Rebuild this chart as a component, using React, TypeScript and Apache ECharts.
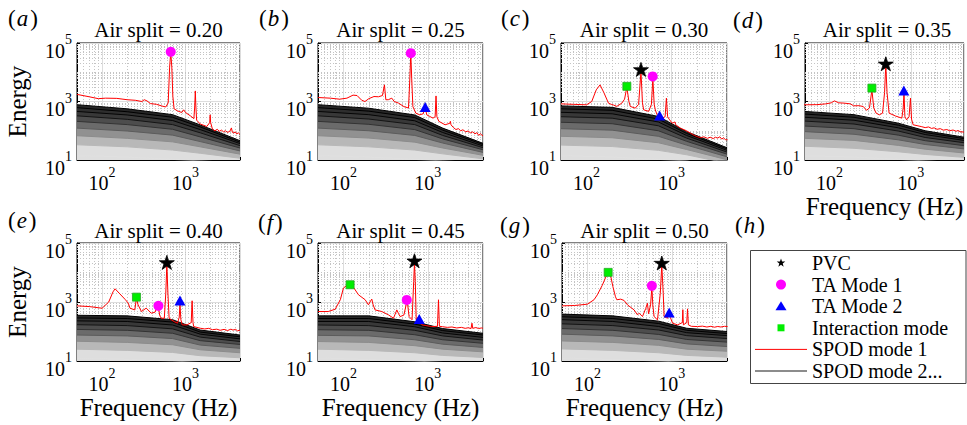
import React, { useEffect, useRef } from "react";
import * as echarts from "echarts";

const FONT = "Liberation Serif";

// ---------------- data ----------------
const AIR_SPLIT = ["0.20", "0.25", "0.30", "0.35", "0.40", "0.45", "0.50"];
const PANEL_TAGS = ["a", "b", "c", "d", "e", "f", "g"];

const FREQ_MIN = 50;
const FREQ_MAX = 4500;
const ENERGY_MIN = 10;
const ENERGY_MAX = 100000;

const MINOR_FREQ = [60, 70, 80, 90, 200, 300, 400, 500, 600, 700, 800, 900, 2000, 3000, 4000];
const MINOR_ENERGY = [
  20, 30, 40, 50, 60, 70, 80, 90, 100, 200, 300, 400, 500, 600, 700, 800, 900,
  2000, 3000, 4000, 5000, 6000, 7000, 8000, 9000, 10000, 20000, 30000, 40000,
  50000, 60000, 70000, 80000, 90000,
];

// SPOD modes 2, 3, ... (top to bottom): log10(Energy) at SPOD_FREQ
const SPOD_FREQ = [50, 200, 700, 1500, 4500];
const SPOD_LOG_A = [
  [2.89, 2.75, 2.55, 2.2, 1.66], [2.79, 2.65, 2.46, 2.13, 1.61], [2.66, 2.54, 2.35, 2.04, 1.56],
  [2.51, 2.39, 2.21, 1.93, 1.49], [2.32, 2.21, 2.05, 1.79, 1.41], [2.09, 1.99, 1.85, 1.63, 1.31],
  [1.83, 1.74, 1.62, 1.45, 1.2], [1.52, 1.45, 1.34, 1.23, 1.06], [1.15, 1.1, 1.02, 0.97, 0.9],
];
const SPOD_LOG_B = [
  [2.89, 2.77, 2.54, 2.09, 1.57], [2.79, 2.67, 2.45, 2.02, 1.53], [2.66, 2.55, 2.34, 1.94, 1.48],
  [2.51, 2.4, 2.21, 1.84, 1.42], [2.32, 2.22, 2.04, 1.72, 1.35], [2.09, 2.0, 1.84, 1.58, 1.26],
  [1.83, 1.75, 1.61, 1.41, 1.16], [1.52, 1.45, 1.34, 1.21, 1.04], [1.15, 1.1, 1.02, 0.97, 0.9],
];
const SPOD_LOG_C = [
  [2.85, 2.8, 2.49, 1.97, 1.42], [2.75, 2.7, 2.4, 1.91, 1.38], [2.63, 2.58, 2.3, 1.84, 1.33],
  [2.48, 2.43, 2.17, 1.75, 1.27], [2.29, 2.24, 2.0, 1.64, 1.2], [2.07, 2.02, 1.81, 1.51, 1.11],
  [1.81, 1.76, 1.59, 1.36, 1.01], [1.51, 1.46, 1.33, 1.18, 0.89], [1.15, 1.1, 1.02, 0.97, 0.75],
];
const SPOD_LOG_D = [
  [2.66, 2.55, 2.26, 2.0, 1.78], [2.57, 2.46, 2.19, 1.94, 1.73], [2.46, 2.36, 2.1, 1.87, 1.67],
  [2.33, 2.23, 1.99, 1.77, 1.59], [2.16, 2.07, 1.85, 1.66, 1.49], [1.97, 1.88, 1.69, 1.53, 1.38],
  [1.74, 1.67, 1.5, 1.37, 1.24], [1.47, 1.4, 1.28, 1.19, 1.09], [1.15, 1.1, 1.02, 0.97, 0.9],
];
const SPOD_LOG_E = [
  [2.55, 2.53, 2.4, 2.05, 1.88], [2.46, 2.44, 2.32, 1.98, 1.82], [2.36, 2.34, 2.22, 1.91, 1.75],
  [2.23, 2.2, 2.09, 1.81, 1.66], [2.07, 2.04, 1.94, 1.69, 1.56], [1.88, 1.85, 1.76, 1.54, 1.43],
  [1.67, 1.63, 1.55, 1.38, 1.28], [1.4, 1.36, 1.29, 1.18, 1.11], [1.1, 1.05, 1.0, 0.95, 0.9],
];
const SPOD_LOG_F = [
  [2.53, 2.53, 2.33, 2.1, 1.94], [2.44, 2.44, 2.25, 2.03, 1.88], [2.34, 2.34, 2.16, 1.95, 1.8],
  [2.22, 2.2, 2.04, 1.85, 1.71], [2.06, 2.04, 1.89, 1.72, 1.6], [1.87, 1.85, 1.72, 1.57, 1.46],
  [1.66, 1.63, 1.52, 1.4, 1.31], [1.4, 1.36, 1.28, 1.19, 1.12], [1.1, 1.05, 1.0, 0.95, 0.9],
];
const SPOD_LOG_G = [
  [2.59, 2.53, 2.35, 2.11, 2.0], [2.5, 2.44, 2.27, 2.04, 1.93], [2.4, 2.34, 2.17, 1.96, 1.86],
  [2.26, 2.2, 2.05, 1.86, 1.76], [2.1, 2.04, 1.9, 1.73, 1.64], [1.91, 1.85, 1.73, 1.58, 1.49],
  [1.68, 1.63, 1.53, 1.4, 1.33], [1.41, 1.36, 1.28, 1.19, 1.13], [1.1, 1.05, 1.0, 0.95, 0.9],
];

// SPOD mode 1 spectra: [frequency (Hz), energy]
const MODE1_A = [
  [50, 1750], [70, 1450], [90, 1250], [110, 1300], [150, 1280], [200, 1150], [250, 1100], [300, 1000],
  [320, 1150], [345, 1050], [380, 850], [450, 800], [520, 700], [580, 650], [620, 900], [645, 15000],
  [665, 48000], [685, 15000], [705, 1500], [730, 560], [800, 480], [900, 420], [950, 520], [1000, 420],
  [1150, 320], [1260, 260], [1290, 700], [1310, 2300], [1330, 700], [1360, 230], [1500, 170], [1800, 140],
  [1950, 190], [1975, 350], [2000, 190], [2100, 115], [2250, 100], [2400, 112], [2550, 96], [2700, 105],
  [2850, 92], [3000, 100], [3200, 88], [3400, 96], [3550, 125], [3650, 88], [3800, 84], [3950, 92],
  [4100, 78], [4300, 85], [4500, 75],
];
const MODE1_B = [
  [50, 1370], [70, 1300], [90, 1200], [110, 1300], [130, 1650], [145, 1600], [165, 1100], [180, 1000],
  [200, 1250], [230, 1480], [260, 1450], [290, 1600], [306, 3700], [318, 1150], [340, 1150], [374, 1300],
  [400, 1000], [450, 880], [520, 670], [590, 600], [612, 6000], [628, 45000], [644, 6000], [665, 670],
  [720, 400], [800, 350], [880, 380], [930, 650], [970, 350], [1050, 310], [1150, 270], [1220, 300],
  [1250, 1550], [1280, 300], [1350, 210], [1600, 160], [1820, 180], [1850, 210], [1880, 160], [2000, 130],
  [2150, 110], [2300, 118], [2450, 100], [2600, 108], [2800, 92], [3000, 98], [3200, 85], [3400, 92],
  [3600, 78], [3800, 86], [4000, 70], [4200, 78], [4500, 66],
];
const MODE1_C = [
  [50, 830], [70, 800], [100, 770], [115, 1000], [130, 2500], [144, 3700], [160, 2000], [181, 880],
  [195, 800], [207, 760], [227, 680], [260, 880], [280, 1200], [298, 3100], [315, 1000], [327, 680],
  [374, 590], [410, 800], [437, 10700], [455, 900], [470, 520], [539, 460], [580, 800], [603, 6300],
  [625, 800], [645, 515], [676, 350], [725, 320], [773, 270], [840, 300], [871, 1300], [900, 300],
  [950, 236], [1020, 181], [1100, 200], [1120, 160], [1280, 122], [1500, 100], [1680, 82], [1850, 70],
  [2010, 63], [2200, 58], [2400, 62], [2650, 55], [2850, 60], [3100, 54], [3300, 60], [3490, 56],
  [3700, 62], [3900, 52], [4100, 57], [4300, 50], [4570, 49],
];
const MODE1_D = [
  [48, 770], [70, 780], [90, 830], [105, 900], [115, 1050], [130, 900], [151, 880], [181, 830],
  [198, 710], [230, 720], [260, 674], [285, 500], [310, 600], [332, 2500], [350, 600], [374, 400],
  [410, 350], [449, 400], [475, 2000], [492, 18100], [510, 2000], [540, 400], [646, 320], [775, 270],
  [805, 600], [824, 1930], [845, 300], [887, 236], [950, 300], [990, 1300], [1020, 250], [1066, 160],
  [1340, 139], [1500, 128], [1650, 135], [1800, 120], [1930, 126], [2100, 112], [2300, 118], [2500, 105],
  [2770, 110], [3000, 100], [3300, 106], [3600, 96], [3800, 102], [4030, 93], [4500, 90],
];
const MODE1_E = [
  [50, 740], [70, 700], [100, 615], [120, 1000], [135, 2200], [143, 2800], [160, 2000], [190, 1200],
  [206, 910], [216, 615], [247, 540], [258, 1400], [270, 800], [296, 475], [338, 620], [388, 417],
  [430, 450], [450, 600], [473, 700], [490, 350], [510, 282], [557, 282], [580, 2000], [597, 18300],
  [615, 2000], [636, 282], [729, 217], [800, 191], [840, 300], [858, 820], [880, 250], [912, 168],
  [1043, 168], [1170, 200], [1200, 1100], [1230, 200], [1253, 147], [1500, 129], [1700, 122], [1900, 128],
  [2100, 115], [2370, 120], [2600, 110], [2900, 118], [3200, 108], [3500, 120], [3700, 112], [4000, 118],
  [4200, 105], [4500, 112],
];
const MODE1_F = [
  [50, 475], [66, 475], [80, 570], [92, 1200], [100, 2950], [110, 3700], [120, 3840], [131, 3190],
  [151, 1750], [181, 1190], [198, 800], [210, 1100], [217, 1250], [225, 800], [237, 540], [285, 475],
  [342, 366], [392, 282], [429, 540], [450, 400], [470, 321], [520, 360], [563, 1000], [574, 910],
  [600, 320], [650, 250], [680, 5000], [694, 20900], [710, 5000], [728, 248], [760, 300], [791, 261],
  [850, 168], [1112, 147], [1300, 150], [1337, 1190], [1370, 150], [1500, 145], [1700, 138], [1930, 142],
  [2200, 132], [2500, 138], [2770, 128], [3000, 134], [3250, 126], [3330, 191], [3400, 128], [3700, 136],
  [4000, 126], [4300, 132], [4500, 129],
];
const MODE1_G = [
  [50, 740], [70, 760], [100, 844], [120, 1200], [131, 1750], [150, 3700], [165, 7000], [176, 9550],
  [190, 7000], [200, 3370], [215, 1500], [223, 1190], [248, 1250], [272, 1125], [298, 800], [357, 540],
  [392, 366], [410, 417], [449, 321], [490, 600], [514, 910], [530, 400], [560, 800], [580, 3190],
  [595, 800], [616, 321], [676, 248], [730, 2000], [760, 18300], [790, 2000], [810, 321], [888, 282],
  [930, 440], [960, 300], [1020, 191], [1170, 168], [1330, 200], [1350, 550], [1370, 168], [1500, 200],
  [1534, 586], [1570, 168], [1700, 150], [2010, 147], [2300, 152], [2600, 142], [2900, 150], [3200, 140],
  [3500, 148], [3800, 142], [4200, 150], [4570, 147],
];

// identified peaks: [frequency (Hz), energy] or null
const PVC_PEAK = [null, null, [437, 12500], [492, 19500], [597, 22000], [694, 25000], [760, 21000]];
const TA1_PEAK = [[665, 50000], [628, 45000], [600, 7200], null, [473, 740], [563, 1180], [580, 3540]];
const TA2_PEAK = [null, [930, 650], [725, 330], [820, 2400], [858, 1120], [791, 265], [930, 440]];
const INTER_PEAK = [null, null, [298, 3300], [332, 2870], [258, 1460], [120, 3840], [176, 10100]];

const LEGEND_LABELS = ["PVC", "TA Mode 1", "TA Mode 2", "Interaction mode", "SPOD mode 1", "SPOD mode 2..."];

// ---------------- layout / style ----------------
const SPOD_SETS = [SPOD_LOG_A, SPOD_LOG_B, SPOD_LOG_C, SPOD_LOG_D, SPOD_LOG_E, SPOD_LOG_F, SPOD_LOG_G];
const MODE1_SETS = [MODE1_A, MODE1_B, MODE1_C, MODE1_D, MODE1_E, MODE1_F, MODE1_G];

const BOXES = [
  { left: 77, top: 43, width: 163, height: 117 },
  { left: 318, top: 43, width: 165, height: 117 },
  { left: 561, top: 43, width: 166, height: 117 },
  { left: 805, top: 43, width: 164, height: 117 },
  { left: 77, top: 243, width: 163, height: 118 },
  { left: 318, top: 243, width: 165, height: 118 },
  { left: 562, top: 243, width: 165, height: 118 },
];
const TAG_POS = [
  [8, 18], [259, 18], [501, 18], [733, 20], [8, 220], [258, 222], [500, 225], [735, 225],
];

const LINE_GRAY = [0, 0, 0.02, 0.08, 0.2, 0.36, 0.55, 0.72, 0.88];
const BAND_GRAY = [0.15, 0.18, 0.22, 0.3, 0.42, 0.57, 0.72, 0.87];
const gray = (v: number) => {
  const g = Math.round(v * 255);
  return `rgb(${g},${g},${g})`;
};

const STAR_PATH =
  "path://M100,0L122.5,69.1L195.1,69.1L136.3,111.8L158.8,180.9L100,138.2L41.2,180.9L63.7,111.8L4.9,69.1L77.5,69.1Z";

const powLabel = (v: number) => {
  const p = Math.log10(v);
  const r = Math.round(p);
  if (Math.abs(p - r) > 1e-6) return "";
  return `{b|10}{s|${r}}`;
};
const TICK_RICH = () => ({
  b: { fontFamily: FONT, fontSize: 20, color: "#000", lineHeight: 28, verticalAlign: "bottom" },
  s: { fontFamily: FONT, fontSize: 14, color: "#000", lineHeight: 16, verticalAlign: "top" },
});

function buildOption() {
  const grid: any[] = [];
  const xAxis: any[] = [];
  const yAxis: any[] = [];
  const series: any[] = [];
  const graphic: any[] = [];

  BOXES.forEach((box, i) => {
    grid.push({ ...box, show: true, borderColor: "#000", borderWidth: 1 });
    const showX = i >= 3;
    xAxis.push({
      type: "log",
      logBase: 10,
      gridIndex: i,
      min: FREQ_MIN,
      max: FREQ_MAX,
      axisLine: { show: true, lineStyle: { color: "#000", width: 1 } },
      axisTick: { show: true, inside: true, length: 3, lineStyle: { color: "#000" } },
      axisLabel: {
        formatter: powLabel,
        margin: 5,
        rich: TICK_RICH(),
        color: "#000",
        fontFamily: FONT,
        fontSize: 20,
      },
      splitLine: { show: true, lineStyle: { color: "#dddddd", width: 1 } },
      name: showX ? "Frequency (Hz)" : "",
      nameLocation: "middle",
      nameGap: i === 3 ? 24 : 34,
      nameTextStyle: { fontFamily: FONT, fontSize: 25, color: "#000" },
    });
    const showY = i === 0 || i === 4;
    yAxis.push({
      type: "log",
      logBase: 10,
      gridIndex: i,
      min: ENERGY_MIN,
      max: ENERGY_MAX,
      interval: 2,
      axisLine: { show: true, lineStyle: { color: "#000", width: 1 } },
      axisTick: { show: true, inside: true, length: 3, lineStyle: { color: "#000" } },
      axisLabel: {
        formatter: powLabel,
        margin: 5,
        rich: TICK_RICH(),
        color: "#000",
        fontFamily: FONT,
        fontSize: 20,
        padding: [7, 0, 0, 0],
      },
      splitLine: { show: true, lineStyle: { color: "#dddddd", width: 1 } },
      name: showY ? "Energy" : "",
      nameLocation: "middle",
      nameRotate: 90,
      nameGap: 47,
      nameTextStyle: { fontFamily: FONT, fontSize: 25, color: "#000" },
    });

    // minor grid (dotted)
    series.push({
      type: "line",
      xAxisIndex: i,
      yAxisIndex: i,
      data: [],
      silent: true,
      z: 1,
      markLine: {
        silent: true,
        z: 1,
        symbol: "none",
        animation: false,
        label: { show: false },
        emphasis: { disabled: true },
        lineStyle: { color: "#c4c4c4", type: [1, 2], width: 1 },
        data: [
          ...MINOR_FREQ.map((f) => ({ xAxis: f })),
          ...MINOR_ENERGY.map((e) => ({ yAxis: e })),
        ],
      },
    });

    // SPOD modes 2...
    const set = SPOD_SETS[i];
    set.forEach((row, k) => {
      series.push({
        type: "line",
        xAxisIndex: i,
        yAxisIndex: i,
        silent: true,
        symbol: "none",
        z: 2,
        emphasis: { disabled: true },
        data: SPOD_FREQ.map((f, j) => [f, Math.pow(10, row[j])]),
        lineStyle: { color: gray(LINE_GRAY[k]), width: 1 },
        areaStyle:
          k < set.length - 1 ? { color: gray(BAND_GRAY[k]), opacity: 1, origin: "start" } : undefined,
      });
    });

    // SPOD mode 1
    series.push({
      type: "line",
      xAxisIndex: i,
      yAxisIndex: i,
      silent: true,
      symbol: "none",
      z: 3,
      emphasis: { disabled: true },
      data: MODE1_SETS[i],
      lineStyle: { color: "#ff0000", width: 1 },
    });

    const addMarker = (pt: any, symbol: string, size: any, color: string, border?: string) => {
      if (!pt) return;
      series.push({
        type: "scatter",
        xAxisIndex: i,
        yAxisIndex: i,
        silent: true,
        z: 4,
        symbol,
        symbolSize: size,
        data: [pt],
        itemStyle: { color, opacity: 1, borderColor: border || color, borderWidth: border ? 0.8 : 0 },
      });
    };
    addMarker(INTER_PEAK[i], "rect", 8, "#00ee00", "#22aa22");
    addMarker(TA1_PEAK[i], "circle", 10, "#ff00ff");
    addMarker(TA2_PEAK[i], "triangle", [11, 10], "#0000ff");
    addMarker(PVC_PEAK[i], STAR_PATH, [15, 14], "#000000", "#000000");

    // title
    graphic.push({
      type: "text",
      x: box.left + box.width / 2,
      y: i < 4 ? 30 : 231,
      style: {
        text: `Air split = ${AIR_SPLIT[i]}`,
        fontFamily: FONT,
        fontSize: 21,
        fill: "#000",
        align: "center",
        verticalAlign: "middle",
      },
    });
  });

  // panel tags
  [...PANEL_TAGS, "h"].forEach((t, i) => {
    graphic.push({
      type: "text",
      x: TAG_POS[i][0],
      y: TAG_POS[i][1],
      style: {
        text: `{p|(}{i|${t}}{p|)}`,
        verticalAlign: "middle",
        rich: {
          p: { fontFamily: FONT, fontSize: 23, fill: "#000" },
          i: { fontFamily: FONT, fontSize: 23, fontStyle: "italic", fill: "#000", padding: [0, 2, 0, 1] },
        },
      },
    });
  });

  // legend panel (h)
  const lx = 781;
  const rows = [263, 284.6, 306.2, 327.8, 349.4, 371];
  graphic.push({
    type: "rect",
    shape: { x: 750.5, y: 250.5, width: 215.5, height: 133 },
    style: { fill: "#fff", stroke: "#444", lineWidth: 1 },
  });
  const starPts: number[][] = [];
  for (let k = 0; k < 10; k++) {
    const a = -Math.PI / 2 + (k * Math.PI) / 5;
    const r = k % 2 === 0 ? 4.5 : 1.8;
    starPts.push([lx + r * Math.cos(a), rows[0] + r * Math.sin(a)]);
  }
  graphic.push({ type: "polygon", shape: { points: starPts }, style: { fill: "#000" } });
  graphic.push({ type: "circle", shape: { cx: lx, cy: rows[1], r: 5 }, style: { fill: "#ff00ff" } });
  graphic.push({
    type: "polygon",
    shape: { points: [[lx, rows[2] - 5], [lx - 5.5, rows[2] + 4], [lx + 5.5, rows[2] + 4]] },
    style: { fill: "#0000ff" },
  });
  graphic.push({
    type: "rect",
    shape: { x: lx - 3.5, y: rows[3] - 3.5, width: 7, height: 7 },
    style: { fill: "#00ee00" },
  });
  graphic.push({
    type: "line",
    shape: { x1: 755, y1: rows[4], x2: 807, y2: rows[4] },
    style: { stroke: "#ff0000", lineWidth: 1 },
  });
  graphic.push({
    type: "line",
    shape: { x1: 755, y1: rows[5], x2: 807, y2: rows[5] },
    style: { stroke: "#666666", lineWidth: 1.5 },
  });
  LEGEND_LABELS.forEach((t, k) => {
    graphic.push({
      type: "text",
      x: 812,
      y: rows[k],
      style: { text: t, fontFamily: FONT, fontSize: 20, fill: "#000", verticalAlign: "middle" },
    });
  });

  return {
    animation: false,
    backgroundColor: "#fff",
    textStyle: { fontFamily: FONT },
    grid,
    xAxis,
    yAxis,
    series,
    graphic,
  };
}

export default function App() {
  const ref = useRef<HTMLDivElement>(null);
  useEffect(() => {
    if (!ref.current) return;
    const chart = echarts.init(ref.current, undefined, { renderer: "svg" });
    chart.setOption(buildOption() as any);
    return () => chart.dispose();
  }, []);
  return (
    <div
      ref={ref}
      style={{ position: "fixed", left: 0, top: 0, width: 967, height: 425, background: "#fff" }}
    />
  );
}
